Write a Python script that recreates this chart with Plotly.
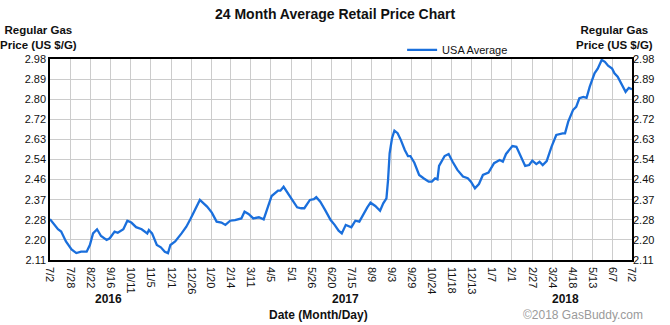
import plotly.graph_objects as go

dates = [
    "2016-07-02", "2016-07-12", "2016-07-16", "2016-07-22", "2016-07-29", "2016-08-04",
    "2016-08-10", "2016-08-17", "2016-08-21", "2016-08-25", "2016-08-30", "2016-09-04",
    "2016-09-11", "2016-09-15", "2016-09-21", "2016-09-25", "2016-10-02", "2016-10-07",
    "2016-10-12", "2016-10-18", "2016-10-25", "2016-10-29", "2016-11-01", "2016-11-03",
    "2016-11-07", "2016-11-13", "2016-11-18", "2016-11-23", "2016-11-27", "2016-11-30",
    "2016-12-06", "2016-12-14", "2016-12-20", "2016-12-25", "2016-12-29", "2017-01-06",
    "2017-01-15", "2017-01-21", "2017-01-27", "2017-02-02", "2017-02-07", "2017-02-13",
    "2017-02-19", "2017-02-27", "2017-03-03", "2017-03-08", "2017-03-14", "2017-03-21",
    "2017-03-27", "2017-03-31", "2017-04-06", "2017-04-14", "2017-04-17", "2017-04-21",
    "2017-04-25", "2017-05-02", "2017-05-08", "2017-05-13", "2017-05-17", "2017-05-24",
    "2017-05-29", "2017-06-01", "2017-06-06", "2017-06-12", "2017-06-19", "2017-06-24",
    "2017-06-29", "2017-07-03", "2017-07-08", "2017-07-15", "2017-07-20", "2017-07-25",
    "2017-07-30", "2017-08-04", "2017-08-08", "2017-08-14", "2017-08-20", "2017-08-24",
    "2017-08-28", "2017-08-30", "2017-09-01", "2017-09-04", "2017-09-07", "2017-09-11",
    "2017-09-15", "2017-09-20", "2017-09-24", "2017-09-27", "2017-10-02", "2017-10-08",
    "2017-10-14", "2017-10-20", "2017-10-24", "2017-10-28", "2017-10-31", "2017-11-02",
    "2017-11-09", "2017-11-14", "2017-11-19", "2017-11-25", "2017-12-02", "2017-12-08",
    "2017-12-12", "2017-12-17", "2017-12-22", "2017-12-27", "2018-01-03", "2018-01-10",
    "2018-01-17", "2018-01-21", "2018-01-25", "2018-02-02", "2018-02-07", "2018-02-13",
    "2018-02-18", "2018-02-23", "2018-02-27", "2018-03-04", "2018-03-08", "2018-03-12",
    "2018-03-17", "2018-03-23", "2018-03-29", "2018-04-06", "2018-04-09", "2018-04-13",
    "2018-04-19", "2018-04-23", "2018-04-27", "2018-05-02", "2018-05-06", "2018-05-10",
    "2018-05-16", "2018-05-20", "2018-05-25", "2018-05-29", "2018-06-02", "2018-06-07",
    "2018-06-10", "2018-06-14", "2018-06-20", "2018-06-24", "2018-06-28", "2018-07-02",
]

prices = [
    2.287, 2.243, 2.233, 2.190, 2.156, 2.140,
    2.146, 2.146, 2.175, 2.225, 2.243, 2.214,
    2.197, 2.204, 2.233, 2.228, 2.243, 2.280,
    2.272, 2.252, 2.243, 2.233, 2.225, 2.240,
    2.225, 2.175, 2.165, 2.146, 2.140, 2.175,
    2.190, 2.225, 2.254, 2.286, 2.312, 2.370,
    2.341, 2.315, 2.276, 2.272, 2.262, 2.280,
    2.283, 2.290, 2.319, 2.309, 2.290, 2.295,
    2.286, 2.327, 2.387, 2.410, 2.410, 2.427,
    2.406, 2.373, 2.338, 2.334, 2.334, 2.370,
    2.373, 2.382, 2.362, 2.327, 2.283, 2.262,
    2.237, 2.225, 2.262, 2.252, 2.280, 2.276,
    2.309, 2.338, 2.358, 2.344, 2.323, 2.355,
    2.377, 2.456, 2.572, 2.637, 2.670, 2.659,
    2.630, 2.586, 2.560, 2.560, 2.531, 2.478,
    2.463, 2.449, 2.449, 2.463, 2.459, 2.517,
    2.560, 2.569, 2.535, 2.500, 2.471, 2.464,
    2.449, 2.420, 2.439, 2.478, 2.488, 2.529,
    2.543, 2.536, 2.569, 2.603, 2.600, 2.557,
    2.517, 2.521, 2.540, 2.525, 2.535, 2.521,
    2.538, 2.600, 2.651, 2.658, 2.658, 2.709,
    2.759, 2.773, 2.810, 2.816, 2.812, 2.860,
    2.918, 2.938, 2.976, 2.968, 2.951, 2.939,
    2.918, 2.903, 2.867, 2.838, 2.855, 2.849,
]

x_tick_dates = [
    "2016-07-02", "2016-07-28", "2016-08-22", "2016-09-16", "2016-10-11", "2016-11-05",
    "2016-12-01", "2016-12-26", "2017-01-20", "2017-02-14", "2017-03-11", "2017-04-05",
    "2017-05-01", "2017-05-26", "2017-06-20", "2017-07-15", "2017-08-09", "2017-09-03",
    "2017-09-29", "2017-10-24", "2017-11-18", "2017-12-13", "2018-01-07", "2018-02-01",
    "2018-02-27", "2018-03-24", "2018-04-18", "2018-05-13", "2018-06-07", "2018-07-02",
]
x_tick_labels = [
    "7/2", "7/28", "8/22", "9/16", "10/11", "11/5", "12/1", "12/26", "1/20", "2/14",
    "3/11", "4/5", "5/1", "5/26", "6/20", "7/15", "8/9", "9/3", "9/29", "10/24",
    "11/18", "12/13", "1/7", "2/1", "2/27", "3/24", "4/18", "5/13", "6/7", "7/2",
]
y_tick_vals = [2.11, 2.197, 2.284, 2.371, 2.458, 2.545, 2.632, 2.719, 2.806, 2.893, 2.98]
y_tick_text = ["2.11", "2.20", "2.28", "2.37", "2.46", "2.54", "2.63", "2.72", "2.80", "2.89", "2.98"]
years = ["2016", "2017", "2018"]
year_pos = [0.101, 0.507, 0.885]

FONT = "Arial, Liberation Sans, sans-serif"
LINE_COLOR = "#1a6fdc"

fig = go.Figure()
fig.add_trace(go.Scatter(
    x=dates, y=prices, mode="lines", name="USA Average",
    line=dict(color=LINE_COLOR, width=2.3), yaxis="y",
))
fig.add_trace(go.Scatter(
    x=dates, y=prices, mode="lines", showlegend=False, hoverinfo="skip",
    line=dict(color=LINE_COLOR, width=2.3), opacity=0, yaxis="y2",
))

axis_common = dict(
    showgrid=True, gridcolor="#cccccc", gridwidth=1,
    showline=True, linecolor="black", linewidth=1.5,
    ticks="", zeroline=False,
    tickfont=dict(family=FONT, size=11, color="#111"),
)

fig.update_layout(
    width=670, height=325,
    margin=dict(l=50, r=38, t=59, b=65),
    paper_bgcolor="white", plot_bgcolor="white",
    font=dict(family=FONT, color="#111"),
    xaxis=dict(
        type="date", range=["2016-07-02", "2018-07-02"],
        tickmode="array", tickvals=x_tick_dates, ticktext=x_tick_labels,
        tickangle=90, mirror=True, ticklabelstandoff=3, **axis_common,
    ),
    yaxis=dict(
        range=[2.11, 2.98], tickmode="array", tickvals=y_tick_vals, ticktext=y_tick_text,
        mirror=True, **axis_common,
    ),
    yaxis2=dict(
        range=[2.11, 2.98], tickmode="array", tickvals=y_tick_vals, ticktext=y_tick_text,
        overlaying="y", side="right", showgrid=False, showline=False, ticks="",
        zeroline=False, tickfont=dict(family=FONT, size=11, color="#111"),
    ),
    showlegend=True,
    legend=dict(
        orientation="h", x=0.605, y=1.045, xanchor="left", yanchor="middle",
        font=dict(family=FONT, size=11, color="#111"), bgcolor="rgba(0,0,0,0)",
    ),
)

annotations = [
    dict(text="<b>24 Month Average Retail Price Chart</b>", xref="paper", yref="paper",
         x=(335 - 50) / 582, y=(260 - 14) / 201, xanchor="center", yanchor="middle",
         showarrow=False, font=dict(family=FONT, size=14, color="#111")),
    dict(text="<b>Regular Gas<br>Price (US $/G)</b>", xref="paper", yref="paper",
         x=(38 - 50) / 582, y=(260 - 37) / 201, xanchor="center", yanchor="middle",
         showarrow=False, font=dict(family=FONT, size=11.5, color="#111")),
    dict(text="<b>Regular Gas<br>Price (US $/G)</b>", xref="paper", yref="paper",
         x=(614 - 50) / 582, y=(260 - 37) / 201, xanchor="center", yanchor="middle",
         showarrow=False, font=dict(family=FONT, size=11.5, color="#111")),
    dict(text="<b>Date (Month/Day)</b>", xref="paper", yref="paper",
         x=(318 - 50) / 582, y=(260 - 315) / 201, xanchor="center", yanchor="middle",
         showarrow=False, font=dict(family=FONT, size=12, color="#111")),
    dict(text="©2018 GasBuddy.com", xref="paper", yref="paper",
         x=(583 - 50) / 582, y=(260 - 315) / 201, xanchor="center", yanchor="middle",
         showarrow=False, font=dict(family=FONT, size=12, color="#9a9a9a")),
]
for yr, pos in zip(years, year_pos):
    annotations.append(dict(text=f"<b>{yr}</b>", xref="paper", yref="paper",
                            x=pos, y=(260 - 299) / 201, xanchor="center", yanchor="middle",
                            showarrow=False, font=dict(family=FONT, size=12, color="#111")))
fig.update_layout(annotations=annotations)

fig.write_html("out.html")
